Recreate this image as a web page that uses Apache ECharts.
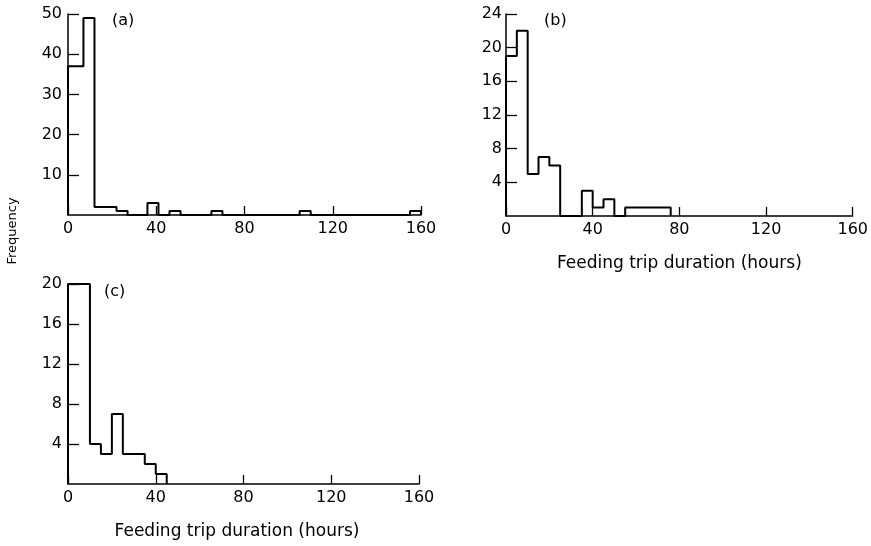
<!DOCTYPE html>
<html>
<head>
<meta charset="utf-8">
<script src="https://cdn.jsdelivr.net/npm/echarts@6/dist/echarts.min.js"></script>
<style>
  html, body { margin: 0; padding: 0; background: #fff; }
  #chart { width: 871px; height: 546px; }
</style>
</head>
<body>
<div id="chart"></div>
<script>
// ---- Data (feeding trip duration histograms) ----
// Panel (a)
const aStart = [0, 7, 12, 22, 36, 46, 65, 105, 155];
const aEnd   = [7, 12, 22, 27, 41, 51, 70, 110, 160];
const aCount = [37, 49, 2, 1, 3, 1, 1, 1, 1];
// Panel (b)
const bStart = [0, 5, 10, 15, 20, 35, 40, 45, 55];
const bEnd   = [5, 10, 15, 20, 25, 40, 45, 50, 76];
const bCount = [19, 22, 5, 7, 6, 3, 1, 2, 1];
// Panel (c)
const cStart = [0, 10, 15, 20, 25, 35, 40];
const cEnd   = [10, 15, 20, 25, 35, 40, 45];
const cCount = [20, 4, 3, 7, 3, 2, 1];

const xTicks = [0, 40, 80, 120, 160];
const panelLabels = ['(a)', '(b)', '(c)'];
const xTitle = 'Feeding trip duration (hours)';
const yTitle = 'Frequency';

// Build histogram outline (step) from bins
function outline(starts, ends, counts) {
  const pts = [];
  for (let i = 0; i < starts.length; i++) {
    const s = starts[i], e = ends[i], c = counts[i];
    if (i === 0 || ends[i - 1] !== s) pts.push([s, 0]);
    pts.push([s, c]);
    pts.push([e, c]);
    if (i === starts.length - 1 || starts[i + 1] !== e) pts.push([e, 0]);
  }
  return pts;
}

const FONT = 'DejaVu Sans';
const chart = echarts.init(document.getElementById('chart'), null, { renderer: 'canvas' });

function xAxisCfg(gridIndex, withName, namePad) {
  return {
    type: 'value', gridIndex, min: 0, max: 160, interval: 40,
    axisLine: { show: true, lineStyle: { color: '#000', width: 1.5 } },
    axisTick: { show: true, inside: true, length: 9, lineStyle: { color: '#000', width: 1.3 } },
    axisLabel: { color: '#000', fontFamily: FONT, fontSize: 16, margin: 6,
      formatter: v => (xTicks.indexOf(v) >= 0 ? String(v) : '') },
    splitLine: { show: false },
    name: withName ? xTitle : '',
    nameLocation: 'middle', nameGap: 39,
    nameTextStyle: { color: '#000', fontFamily: FONT, fontSize: 17, padding: namePad || 0 }
  };
}
function yAxisCfg(gridIndex, max, interval, margin) {
  return {
    type: 'value', gridIndex, min: 0, max, interval,
    axisLine: { show: true, lineStyle: { color: '#000', width: 1.5 } },
    axisTick: { show: true, inside: true, length: 11, lineStyle: { color: '#000', width: 1.3 } },
    axisLabel: { color: '#000', fontFamily: FONT, fontSize: 16, margin, showMinLabel: false,
      formatter: v => (v === 0 ? '' : String(v)) },
    splitLine: { show: false }
  };
}
function histSeries(idx, pts) {
  return {
    type: 'line', xAxisIndex: idx, yAxisIndex: idx, data: pts,
    showSymbol: false, symbol: 'none', clip: false,
    lineStyle: { color: '#000', width: 2 }, silent: true
  };
}

chart.setOption({
  animation: false,
  backgroundColor: '#fff',
  grid: [
    { left: 68, top: 14, width: 353, height: 201 },
    { left: 506, top: 14, width: 347, height: 202 },
    { left: 68, top: 284, width: 351, height: 200 }
  ],
  xAxis: [ xAxisCfg(0, false), xAxisCfg(1, true), xAxisCfg(2, true, [0, 13, 0, 0]) ],
  yAxis: [ yAxisCfg(0, 50, 10, 6), yAxisCfg(1, 24, 4, 4), yAxisCfg(2, 20, 4, 6) ],
  series: [
    histSeries(0, outline(aStart, aEnd, aCount)),
    histSeries(1, outline(bStart, bEnd, bCount)),
    histSeries(2, outline(cStart, cEnd, cCount))
  ],
  graphic: [
    { type: 'text', left: 112, top: 13, style: { text: panelLabels[0], font: '16px "DejaVu Sans"', fill: '#000' } },
    { type: 'text', left: 544, top: 13, style: { text: panelLabels[1], font: '16px "DejaVu Sans"', fill: '#000' } },
    { type: 'text', left: 104, top: 284, style: { text: panelLabels[2], font: '16px "DejaVu Sans"', fill: '#000' } },
    { type: 'text', x: 13, y: 231, rotation: Math.PI / 2,
      style: { text: yTitle, font: '13px "DejaVu Sans"', fill: '#000', align: 'center', verticalAlign: 'middle' } }
  ]
});
</script>
</body>
</html>
